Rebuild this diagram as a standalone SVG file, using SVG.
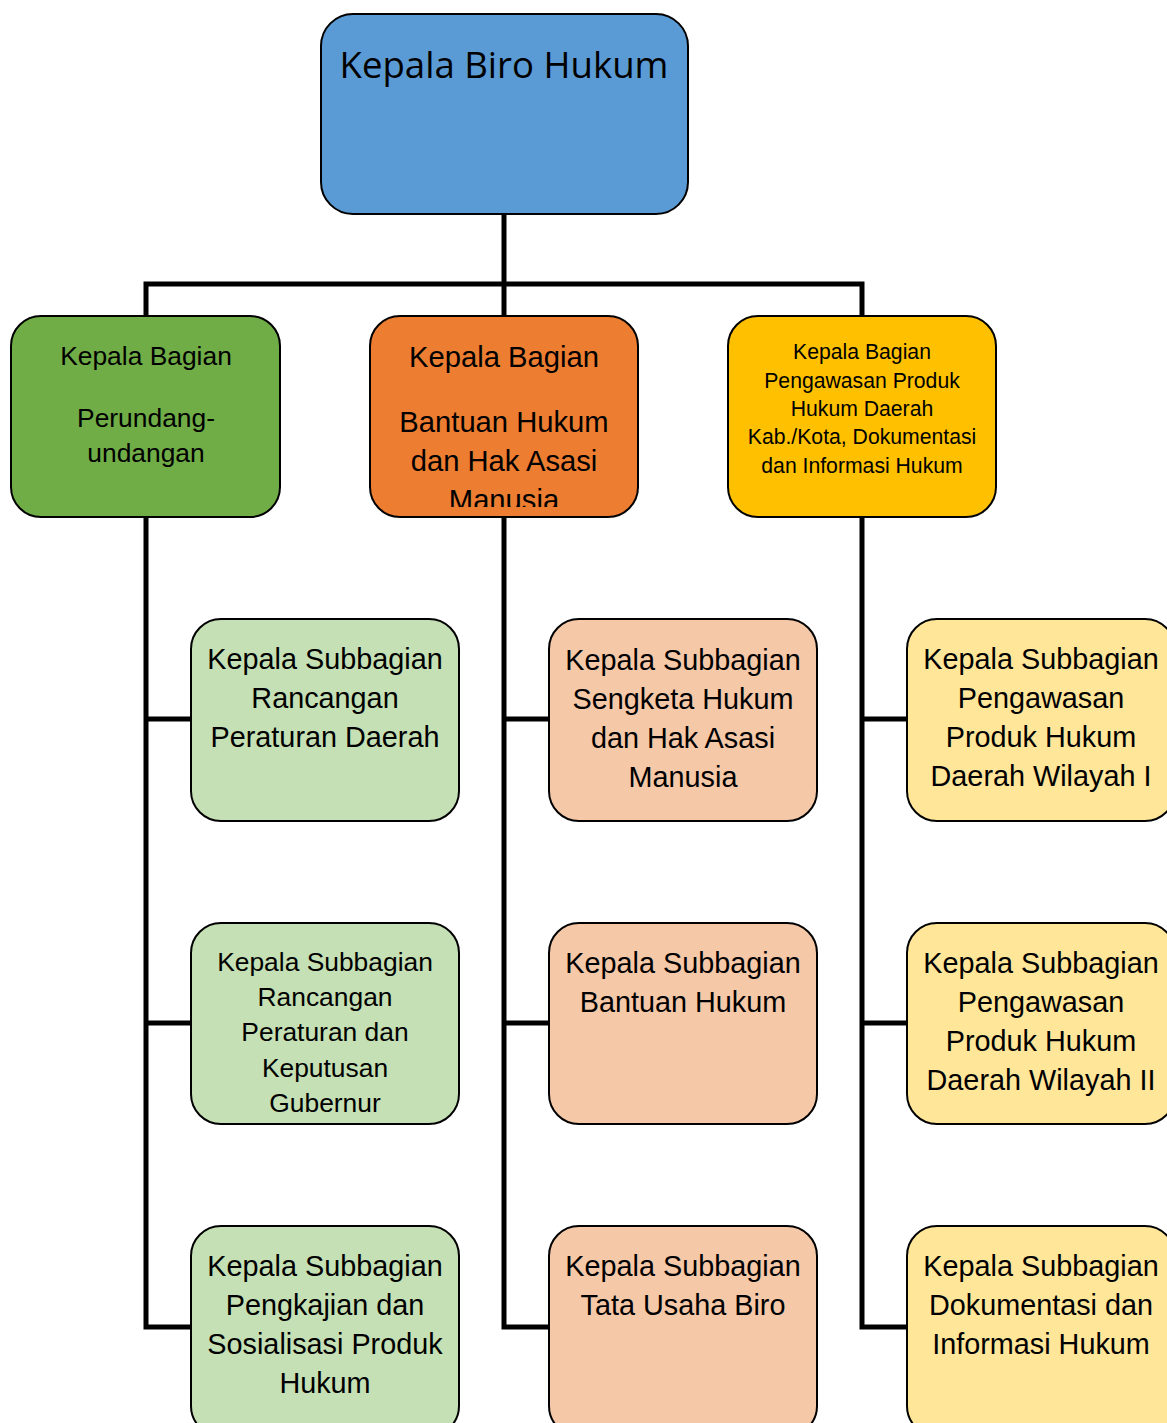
<svg xmlns="http://www.w3.org/2000/svg" width="1167" height="1423" viewBox="0 0 1167 1423">
<style>
.box{stroke:#000;stroke-width:2}
.t{font-family:"Liberation Sans",Arial,sans-serif;fill:#000;text-anchor:middle}
.s{font-size:28.8px}
.conn{fill:none;stroke:#000;stroke-width:5}
</style>
<defs>
<clipPath id="clipOrange"><rect x="371" y="317" width="266" height="190"/></clipPath>
</defs>
<rect width="1167" height="1423" fill="#fff"/>
<g id="connectors">
<path class="conn" d="M504 214V284M146 316V284H862V316M504 284V316"/>
<path class="conn" d="M146 517V1327H191M146 719H191M146 1023H191"/>
<path class="conn" d="M504 517V1327H549M504 719H549M504 1023H549"/>
<path class="conn" d="M862 517V1327H907M862 719H907M862 1023H907"/>
</g>
<g id="kepala-biro">
<rect class="box" x="321" y="14" width="367" height="200" rx="32" fill="#5B9BD5"/>
<text x="504" y="78" font-family="'Open Sans','Noto Sans',sans-serif" font-size="36.6" text-anchor="middle">Kepala Biro Hukum</text>
</g>
<g id="bagian-perundangan">
<rect class="box" x="11" y="316" width="269" height="201" rx="30" fill="#70AD47"/>
<text class="t" font-size="26.4"><tspan x="146" y="365">Kepala Bagian</tspan><tspan x="146" y="427">Perundang-</tspan><tspan x="146" y="462">undangan</tspan></text>
</g>
<g id="bagian-bantuan">
<rect class="box" x="370" y="316" width="268" height="201" rx="30" fill="#ED7D31"/>
<g clip-path="url(#clipOrange)">
<text class="t" font-size="29.2"><tspan x="504" y="367">Kepala Bagian</tspan><tspan x="504" y="432">Bantuan Hukum</tspan><tspan x="504" y="471">dan Hak Asasi</tspan><tspan x="504" y="510">Manusia</tspan></text>
</g>
</g>
<g id="bagian-pengawasan">
<rect class="box" x="728" y="316" width="268" height="201" rx="30" fill="#FFC000"/>
<text class="t" font-size="21.2"><tspan x="862" y="359">Kepala Bagian</tspan><tspan x="862" y="388">Pengawasan Produk</tspan><tspan x="862" y="416">Hukum Daerah</tspan><tspan x="862" y="444">Kab./Kota, Dokumentasi</tspan><tspan x="862" y="473">dan Informasi Hukum</tspan></text>
</g>
<g id="sub-rancangan-perda">
<rect class="box" x="191" y="619" width="268" height="202" rx="30" fill="#C5E0B4"/>
<text class="t s"><tspan x="325" y="669">Kepala Subbagian</tspan><tspan x="325" y="708">Rancangan</tspan><tspan x="325" y="747">Peraturan Daerah</tspan></text>
</g>
<g id="sub-rancangan-pergub">
<rect class="box" x="191" y="923" width="268" height="201" rx="30" fill="#C5E0B4"/>
<text class="t" font-size="26.4"><tspan x="325" y="971">Kepala Subbagian</tspan><tspan x="325" y="1006">Rancangan</tspan><tspan x="325" y="1041">Peraturan dan</tspan><tspan x="325" y="1077">Keputusan</tspan><tspan x="325" y="1112">Gubernur</tspan></text>
</g>
<g id="sub-pengkajian">
<rect class="box" x="191" y="1226" width="268" height="210" rx="30" fill="#C5E0B4"/>
<text class="t s"><tspan x="325" y="1276">Kepala Subbagian</tspan><tspan x="325" y="1315">Pengkajian dan</tspan><tspan x="325" y="1354">Sosialisasi Produk</tspan><tspan x="325" y="1393">Hukum</tspan></text>
</g>
<g id="sub-sengketa">
<rect class="box" x="549" y="619" width="268" height="202" rx="30" fill="#F5C8A8"/>
<text class="t s"><tspan x="683" y="670">Kepala Subbagian</tspan><tspan x="683" y="709">Sengketa Hukum</tspan><tspan x="683" y="748">dan Hak Asasi</tspan><tspan x="683" y="787">Manusia</tspan></text>
</g>
<g id="sub-bantuan">
<rect class="box" x="549" y="923" width="268" height="201" rx="30" fill="#F5C8A8"/>
<text class="t s"><tspan x="683" y="973">Kepala Subbagian</tspan><tspan x="683" y="1012">Bantuan Hukum</tspan></text>
</g>
<g id="sub-tata-usaha">
<rect class="box" x="549" y="1226" width="268" height="210" rx="30" fill="#F5C8A8"/>
<text class="t s"><tspan x="683" y="1276">Kepala Subbagian</tspan><tspan x="683" y="1315">Tata Usaha Biro</tspan></text>
</g>
<g id="sub-wilayah-1">
<rect class="box" x="907" y="619" width="268" height="202" rx="30" fill="#FFE699"/>
<text class="t s"><tspan x="1041" y="669">Kepala Subbagian</tspan><tspan x="1041" y="708">Pengawasan</tspan><tspan x="1041" y="747">Produk Hukum</tspan><tspan x="1041" y="786">Daerah Wilayah I</tspan></text>
</g>
<g id="sub-wilayah-2">
<rect class="box" x="907" y="923" width="268" height="201" rx="30" fill="#FFE699"/>
<text class="t s"><tspan x="1041" y="973">Kepala Subbagian</tspan><tspan x="1041" y="1012">Pengawasan</tspan><tspan x="1041" y="1051">Produk Hukum</tspan><tspan x="1041" y="1090">Daerah Wilayah II</tspan></text>
</g>
<g id="sub-dokumentasi">
<rect class="box" x="907" y="1226" width="268" height="210" rx="30" fill="#FFE699"/>
<text class="t s"><tspan x="1041" y="1276">Kepala Subbagian</tspan><tspan x="1041" y="1315">Dokumentasi dan</tspan><tspan x="1041" y="1354">Informasi Hukum</tspan></text>
</g>
</svg>
